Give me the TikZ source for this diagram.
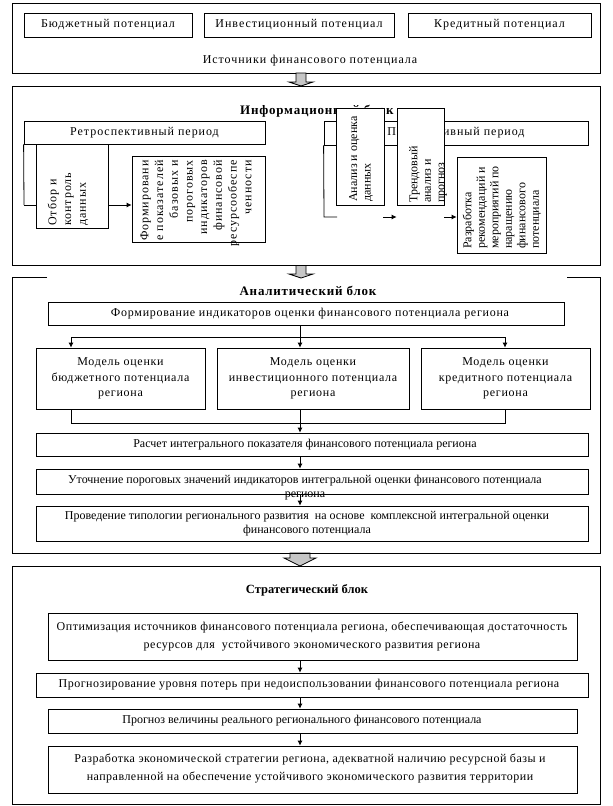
\documentclass[tikz,border=0pt]{standalone}
\usepackage{fontspec}
\setmainfont{Liberation Serif}
\newfontfamily\wideserif[LetterSpace=8]{Liberation Serif}
\newfontfamily\midserif[LetterSpace=6]{Liberation Serif}
\newfontfamily\strserif[LetterSpace=4]{Liberation Serif}
\usetikzlibrary{arrows.meta,fit}
\tikzset{
  bx/.style={draw, fill=white, inner sep=0pt, line width=0.8pt},
  tx/.style={align=center, inner sep=0pt},
  big/.style={tx, font=\wideserif\fontsize{12}{15.5}\selectfont},
  mid/.style={tx, font=\midserif\fontsize{12}{15.5}\selectfont},
  small/.style={tx, font=\fontsize{12}{14}\selectfont},
  strs/.style={tx, font=\strserif\fontsize{12}{18}\selectfont},
  ttl/.style={font=\midserif\bfseries\fontsize{13}{14}\selectfont, inner sep=0pt},
  sttl/.style={font=\bfseries\fontsize{12.5}{14}\selectfont, inner sep=0pt},
  ln/.style={line width=0.8pt},
  arr/.style={ln, -{Latex[length=5pt,width=5pt]}},
  barrow/.style={draw, fill=gray!45, line width=0.8pt},
  vt/.style={rotate=90, align=left, inner sep=0pt},
  vbig/.style={font=\wideserif\fontsize{12}{14.7}\selectfont},
  vmid/.style={font=\fontsize{12}{13.5}\selectfont},
}
\begin{document}
\begin{tikzpicture}[x=1pt,y=-1pt]
\useasboundingbox (0,0) rectangle (613,806);
% ---------- sources block
\node[bx, fit={(12,3) (600,73)}] (src) {};
\node[bx, fit={(24,13) (192,37)}] (b1) {};
\node[big] (b1t) at (b1) {Бюджетный потенциал};
\node[bx, fit={(204,13) (394,37)}] (b2) {};
\node[big] (b2t) at (b2) {Инвестиционный потенциал};
\node[bx, fit={(408,13) (591,37)}] (b3) {};
\node[big] (b3t) at (b3) {Кредитный потенциал};
\node[big] (srcl) at (310,61) {Источники финансового потенциала};
% block arrows
\draw[barrow] (296,73) -- (306,73) -- (306,82) -- (313,82) -- (301,86) -- (289,82) -- (296,82) -- cycle;
\draw[barrow] (296,265) -- (306,265) -- (306,274) -- (313,274) -- (301,278) -- (289,274) -- (296,274) -- cycle;
\draw[barrow] (290,553) -- (310,553) -- (310,558) -- (316,558) -- (300,566) -- (284,558) -- (290,558) -- cycle;
% ---------- information block
\node[bx, fit={(12,86) (600,265)}] (info) {};
\node[ttl, anchor=base west] (infot) at (240,114) {Информационный блок};
\node[bx, fit={(24,121) (265,144)}] (retro) {};
\node[big] (retrot) at (retro) {Ретроспективный период};
\node[bx, fit={(324,121) (588,145)}] (persp) {};
\node[big] (perspt) at (persp) {Перспективный период};
\node[bx, fit={(132,156) (265,242)}] (form) {};
\node[vt, vbig, align=right, anchor=east] (formt) at (196,160) {Формировани\\е показателей\\базовых и\\пороговых\\индикаторов\\финансовой\\ресурсообеспе\\ченности};
\coordinate (lc) at (24,205);
\draw[ln] (retro.south west) -- (lc);
\draw[arr] (lc) -- (lc -| form.west);
\node[bx, fit={(36,144) (108,228)}] (otbor) {};
\node[vt, vbig, anchor=west] (otbort) at (68,226) {Отбор и\\контроль\\данных};
\node[bx, fit={(457,157) (546,253)}] (razr) {};
\node[vt, vmid, anchor=west] (razrt) at (502,249) {Разработка\\рекомендаций и\\мероприятий по\\наращению\\финансового\\потенциала};
\node[bx, fit={(397,108) (444,205)}] (trend) {};
\coordinate (rc) at (324,217);
\coordinate (rc1) at (337,217);
\coordinate (ra1) at (383,217);
\coordinate (ra2) at (444,217);
\draw[ln] (persp.south west) -- (rc) -- (rc1);
\draw[arr] (ra1) -- (ra1 -| trend.west);
\draw[arr] (ra2) -- (ra2 -| razr.west);
\node[bx, fit={(336,108) (384,205)}] (anal) {};
\node[vt, vmid, anchor=west] (analt) at (361,202) {Анализ и оценка\\данных};
\node[vt, vmid, anchor=west] (trendt) at (428,203) {Трендовый\\анализ и\\прогноз};
% ---------- analytic block
\draw[ln] (47,277) -- (12,277) -- (12,553) -- (600,553) -- (600,277) -- (567,277);
\node[ttl] (anlt) at (308,291) {Аналитический блок};
\node[bx, fit={(48,302) (564,325)}] (ind) {};
\node[mid] (indt) at (310,314) {Формирование индикаторов оценки финансового потенциала региона};
\node[bx, fit={(36,348) (205,409)}] (m1) {};
\node[mid] (m1t) at (m1) {Модель оценки\\бюджетного потенциала\\региона};
\node[bx, fit={(217,348) (409,409)}] (m2) {};
\node[mid] (m2t) at (m2) {Модель оценки\\инвестиционного потенциала\\региона};
\node[bx, fit={(421,348) (590,409)}] (m3) {};
\node[mid] (m3t) at (m3) {Модель оценки\\кредитного потенциала\\региона};
\coordinate (j1) at (300,337);
\coordinate (jl) at (71,337);
\coordinate (jr) at (505,337);
\draw[ln] (ind.south -| j1) -- (j1);
\draw[ln] (jl) -- (jr);
\draw[arr] (jl) -- (jl |- m1.north);
\draw[arr] (j1) -- (j1 |- m2.north);
\draw[arr] (jr) -- (jr |- m3.north);
\coordinate (kl) at (71,423);
\coordinate (k1) at (300,423);
\coordinate (kr) at (505,423);
\coordinate (ax) at (300,0);
\node[bx, fit={(36,433) (588,456)}] (ras) {};
\node[small] (rast) at (305,444.5) {Расчет интегрального показателя финансового потенциала региона};
\node[bx, fit={(36,469) (588,494)}] (ut) {};
\node[small, anchor=north] (utt) at (305,475) {Уточнение пороговых значений индикаторов интегральной оценки финансового потенциала\\региона};
\node[bx, fit={(36,506) (588,541)}] (pro) {};
\node[small] (prot) at (307,523.5) {Проведение типологии регионального развития\ \ на основе\ \ комплексной интегральной оценки\\финансового потенциала};
\draw[ln] (kl |- m1.south) -- (kl) -- (kr) -- (kr |- m3.south);
\draw[ln] (k1 |- m2.south) -- (k1);
\draw[arr] (k1) -- (k1 |- ras.north);
\draw[arr] (ras.south -| ax) -- (ut.north -| ax);
\draw[arr] (ut.south -| ax) -- (pro.north -| ax);
% ---------- strategic block
\node[bx, fit={(12,566) (600,804)}] (strat) {};
\node[sttl] (strt) at (307,590) {Стратегический блок};
\node[bx, fit={(48,613) (577,660)}] (s1) {};
\node[strs] (s1t) at (312,636.5) {Оптимизация источников финансового потенциала региона, обеспечивающая достаточность\\ресурсов для\ \ устойчивого экономического развития региона};
\node[bx, fit={(36,673) (588,697)}] (s2) {};
\node[strs] (s2t) at (309,685) {Прогнозирование уровня потерь при недоиспользовании финансового потенциала региона};
\node[bx, fit={(48,709) (577,733)}] (s3) {};
\node[small] (s3t) at (302,721) {Прогноз величины реального регионального финансового потенциала};
\node[bx, fit={(48,746) (577,793)}] (s4) {};
\node[strs] (s4t) at (310,768) {Разработка экономической стратегии региона, адекватной наличию ресурсной базы и\\направленной на обеспечение устойчивого экономического развития территории};
\draw[arr] (s1.south -| ax) -- (s2.north -| ax);
\draw[arr] (s2.south -| ax) -- (s3.north -| ax);
\draw[arr] (s3.south -| ax) -- (s4.north -| ax);
\end{tikzpicture}
\end{document}
